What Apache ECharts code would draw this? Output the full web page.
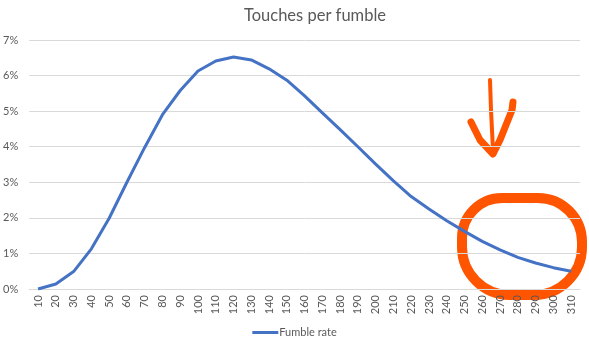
<!DOCTYPE html>
<html><head><meta charset="utf-8">
<script src="https://cdn.jsdelivr.net/npm/echarts@6/dist/echarts.min.js"></script>
<style>html,body{margin:0;padding:0;background:#fff}#c{width:589px;height:347px}</style>
</head><body><div id="c"></div>
<script>
const categories = ['10','20','30','40','50','60','70','80','90','100','110','120','130','140','150','160','170','180','190','200','210','220','230','240','250','260','270','280','290','300','310'];
const fumbleRate = [0.0,0.14,0.49,1.13,1.99,3.0,3.98,4.9,5.58,6.13,6.41,6.52,6.44,6.19,5.87,5.43,4.95,4.48,4.0,3.51,3.04,2.6,2.25,1.92,1.62,1.34,1.1,0.89,0.73,0.6,0.5];
const yTicks = {min:0, max:7, interval:1};

const chart = echarts.init(document.getElementById('c'));
const font = 'Lato, "Open Sans", sans-serif';
chart.setOption({
  animation:false,
  title:{text:'Touches per fumble', left:310, top:2, textAlign:'center',
    textStyle:{fontFamily:font, fontSize:16.5, fontWeight:'normal', color:'#595959'}},
  grid:{left:26, right:9, top:40, bottom:58, containLabel:false},
  legend:{bottom:4, left:'center', itemWidth:26, itemHeight:3, icon:'rect', itemGap:4,
    textStyle:{fontFamily:font, fontSize:11, color:'#595959', padding:[0,0,0,-4]}},
  xAxis:{type:'category', data:categories, boundaryGap:true,
    axisLine:{lineStyle:{color:'#d9d9d9'}}, axisTick:{show:false},
    axisLabel:{rotate:90, fontFamily:font, fontSize:11, color:'#595959', margin:6, interval:0}},
  yAxis:{type:'value', min:yTicks.min, max:yTicks.max, interval:yTicks.interval,
    axisLine:{show:false}, axisTick:{show:false},
    axisLabel:{formatter:'{value}%', fontFamily:font, fontSize:11, color:'#595959', margin:11},
    splitLine:{lineStyle:{color:'#d9d9d9', width:1}}},
  series:[{name:'Fumble rate', type:'line', data:fumbleRate, symbol:'none', smooth:false,
    lineStyle:{color:'#4472C4', width:3}, itemStyle:{color:'#4472C4'}}],
  graphic:[
    {type:'rect', shape:{x:462, y:198, width:120, height:97, r:[40,44,48,48]}, style:{fill:null, stroke:'#FF5400', lineWidth:10}},
    {type:'polyline', shape:{points:[[490,80],[491,110],[493,150]]}, style:{fill:null, stroke:'#FF5400', lineWidth:4, lineCap:'round'}},
    {type:'polyline', shape:{points:[[471,122],[480,140],[493,154],[500,140],[512,110],[513,102]]}, style:{fill:null, stroke:'#FF5400', lineWidth:7, lineJoin:'round', lineCap:'round'}}
  ]
});
</script></body></html>
